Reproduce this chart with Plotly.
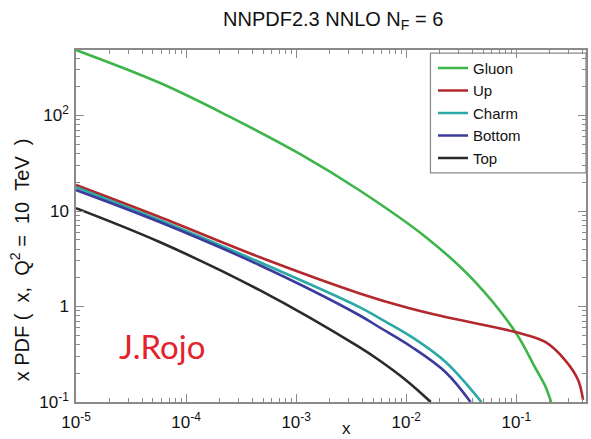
import plotly.graph_objects as go

# ---- data ----
gluon_x = [1e-5, 5.75e-5, 2.33e-4, 1.13e-3, 3.72e-3, 0.0150, 0.0408, 0.098, 0.149, 0.183, 0.207]
gluon_y = [485, 220, 101, 38.5, 16.6, 5.35, 1.89, 0.54, 0.227, 0.147, 0.1]

up_x = [1e-5, 5.75e-5, 4.62e-4, 3.72e-3, 0.0105, 0.0228, 0.098, 0.183, 0.277, 0.364, 0.404]
up_y = [18.7, 8.65, 3.30, 1.38, 0.964, 0.776, 0.54, 0.425, 0.275, 0.170, 0.105]

charm_x = [1e-5, 5.75e-5, 4.62e-4, 3.72e-3, 5.64e-3, 0.0112, 0.0228, 0.0482]
charm_y = [17.8, 8.05, 2.92, 0.99, 0.759, 0.480, 0.262, 0.1]

bottom_x = [1e-5, 5.75e-5, 4.62e-4, 3.72e-3, 5.64e-3, 0.0112, 0.0228, 0.0384]
bottom_y = [16.6, 7.67, 2.72, 0.815, 0.610, 0.377, 0.205, 0.1]

top_x = [1e-5, 5.75e-5, 4.62e-4, 3.72e-3, 5.64e-3, 9.89e-3, 0.0167]
top_y = [10.7, 4.73, 1.49, 0.377, 0.275, 0.170, 0.1]

series_names = ["Gluon", "Up", "Charm", "Bottom", "Top"]
series_colors = ["#3db54a", "#b3282d", "#2aa9a6", "#3b3b9c", "#2a2a2a"]

x_tickvals = [1e-5, 1e-4, 1e-3, 1e-2, 1e-1]
x_ticktext = ["10<sup>-5</sup>", "10<sup>-4</sup>", "10<sup>-3</sup>", "10<sup>-2</sup>", "10<sup>-1</sup>"]
y_tickvals = [0.1, 1, 10, 100]
y_ticktext = ["10<sup>-1</sup>", "1", "10", "10<sup>2</sup>"]

xs = [gluon_x, up_x, charm_x, bottom_x, top_x]
ys = [gluon_y, up_y, charm_y, bottom_y, top_y]

FONT = "Liberation Sans, Arial, sans-serif"

fig = go.Figure()
for name, x, y, c in zip(series_names, xs, ys, series_colors):
    fig.add_trace(go.Scatter(x=x, y=y, mode="lines", name=name,
                             line=dict(color=c, width=2.6, shape="spline", smoothing=1.0)))

x_minor = [m * 10.0 ** e for e in range(-5, 0) for m in range(2, 10) if m * 10.0 ** e < 0.43]
y_minor = [m * 10.0 ** e for e in range(-1, 3) for m in range(2, 10) if m * 10.0 ** e < 480]

axis_common = dict(
    showgrid=False, zeroline=False, showline=True, linecolor="#8a8a8a", linewidth=1.5,
    mirror="ticks", ticks="inside", ticklen=8, tickwidth=1.2, tickcolor="#8a8a8a",
    tickfont=dict(family=FONT, size=17, color="#111111"),
)

fig.update_xaxes(type="log", range=[-5, -0.367], tickmode="array",
                 tickvals=x_tickvals, ticktext=x_ticktext,
                 minor=dict(tickmode="array", tickvals=x_minor, ticks="inside", ticklen=4,
                            tickcolor="#8a8a8a", tickwidth=1),
                 ticklabelstandoff=4, **axis_common)
fig.update_yaxes(type="log", range=[-1, 2.686], tickmode="array",
                 tickvals=y_tickvals, ticktext=y_ticktext,
                 minor=dict(tickmode="array", tickvals=y_minor, ticks="inside", ticklen=4,
                            tickcolor="#8a8a8a", tickwidth=1),
                 ticklabelstandoff=2, **axis_common)

fig.update_layout(
    width=591, height=439,
    margin=dict(l=76, r=3, t=50, b=37),
    paper_bgcolor="white", plot_bgcolor="white",
    showlegend=True,
    legend=dict(x=0.70, y=0.995, xanchor="left", yanchor="top",
                bgcolor="rgba(0,0,0,0)", borderwidth=0,
                font=dict(family=FONT, size=15, color="#111111"),
                itemwidth=30, tracegroupgap=0),
    shapes=[dict(type="rect", xref="paper", yref="paper", x0=0.695, x1=1.0, y0=0.651, y1=0.991,
                 line=dict(color="#8a8a8a", width=1.2), fillcolor="white", layer="below")],
    annotations=[
        dict(text="NNPDF2.3 NNLO N<sub>F</sub> = 6", xref="paper", yref="paper",
             x=0.504, y=1.085, xanchor="center", yanchor="middle", showarrow=False,
             font=dict(family=FONT, size=20, color="#111111")),
        dict(text="x", xref="paper", yref="paper", x=0.531, y=-0.076,
             xanchor="center", yanchor="middle", showarrow=False,
             font=dict(family=FONT, size=17, color="#111111")),
        dict(text="x PDF&nbsp;(&nbsp;&nbsp;x,&nbsp;&nbsp;Q<sup>2</sup>&nbsp;=&nbsp;&nbsp;10&nbsp;&nbsp;TeV&nbsp;&nbsp;)",
             xref="paper", yref="paper", x=-0.11, y=0.405, textangle=-90,
             xanchor="center", yanchor="middle", showarrow=False,
             font=dict(family=FONT, size=20, color="#111111")),
        dict(text="J.Rojo", xref="paper", yref="paper", x=0.168, y=0.16,
             xanchor="center", yanchor="middle", showarrow=False,
             font=dict(family="Lato, sans-serif", size=33, color="#e3232c")),
    ],
)

fig.write_html("out.html")
